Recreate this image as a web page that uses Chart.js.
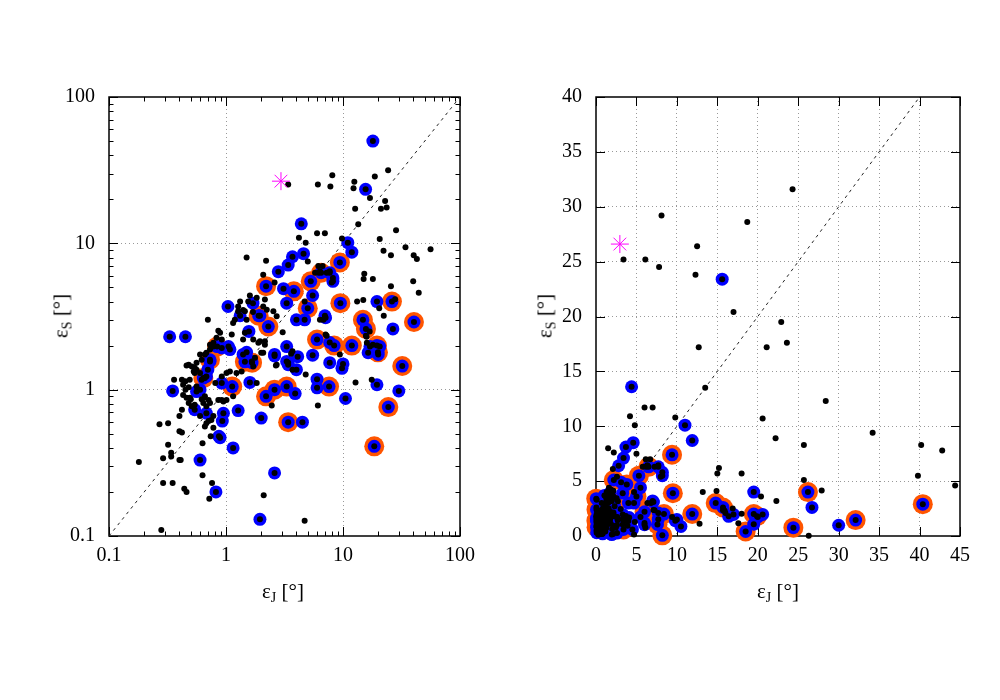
<!DOCTYPE html>
<html>
<head>
<meta charset="utf-8">
<script src="https://cdn.jsdelivr.net/npm/chart.js@4/dist/chart.umd.min.js"></script>
<style>
  body { margin: 0; background: #fff; }
  #wrap { position: relative; width: 1000px; height: 700px; }
  canvas { position: absolute; top: 0; }
  .t { position: absolute; font-family: "Liberation Serif", serif; font-size: 21px; white-space: nowrap; transform: translate(-50%, -50%); }
  .t sub { font-size: 14px; vertical-align: -4px; }
  .r { transform: translate(-50%, -50%) rotate(-90deg); }
</style>
</head>
<body>
<div id="wrap">
  <canvas id="logChart" width="500" height="700" style="left:0"></canvas>
  <canvas id="linChart" width="500" height="700" style="left:500px"></canvas>
  <div class="t" style="left:283px;top:592px">ε<sub>J</sub> [°]</div>
  <div class="t" style="left:778px;top:592px">ε<sub>J</sub> [°]</div>
  <div class="t r" style="left:62px;top:316px">ε<sub>S</sub> [°]</div>
  <div class="t r" style="left:546px;top:316px">ε<sub>S</sub> [°]</div>
</div>
<script>
// points [eps_J, eps_S] in degrees
// orange ring + blue + black
const ringPts = [
  [2.2,5.1],[3.8,4.7],[5.3,5.5],[6.5,6.3],[9.4,7.4],[5.0,3.6],[9.5,3.9],[14.8,3.0],[15.7,2.6],
  [26.2,4.0],[40.4,2.9],[6.0,2.2],[8.4,2.0],[11.9,2.0],[19.5,2.0],[19.9,1.8],[32.1,1.45],
  [24.4,0.76],[18.5,0.41],[3.4,0.6],[2.2,0.9],[2.6,1.0],[3.3,1.05],[7.6,1.05],[1.13,1.05],
  [1.67,1.53],[0.84,1.97],[0.73,1.6],[0.64,1.2],[1.9,3.2],[2.3,2.7],[1.45,1.55],[8.2,0.06],
  [0.06,2.4],[0.07,0.8],[0.03,3.4],[0.05,1.4]
];
// blue + black
const bluePts = [
  [18,50],[15.6,23.4],[4.4,13.6],[11,10.1],[11.9,8.7],[4.6,8.5],[3.7,8.1],[3.4,7.1],[2.8,6.4],
  [3.1,4.9],[5.5,4.4],[8.2,5.8],[7.7,6.3],[19.5,4.0],[1.04,3.7],[7.0,3.2],[0.33,2.3],[0.45,2.3],
  [0.35,0.98],[0.6,0.33],[0.82,0.2],[0.87,0.48],[1.15,0.4],[1.95,0.13],[2.6,0.27],[2.0,0.64],
  [4.5,0.6],[0.95,0.69],[0.93,0.61],[1.27,0.72],[1.6,1.12],[10.5,0.87],[19.5,1.08],[30,0.98],
  [6.0,1.03],[6.0,1.18],[3.9,0.94],[7.7,1.53],[9.8,1.4],[10,1.5],[5.5,1.72],[4.1,1.68],[3.4,1.53],
  [2.6,1.7],[3.3,1.97],[4.0,1.37],[1.57,2.5],[4.0,3.0],[7.1,3.1],[0.92,1.93],[1.05,1.97],[1.5,1.8],
  [1.66,1.56],[0.92,1.11],[0.7,1.37],[0.68,1.23],[0.56,0.97],[0.54,0.73],[0.68,0.69],[0.73,1.56],
  [1.32,3.2],[1.7,3.9],[1.95,3.2],[2.6,1.74],[3.3,3.9],[1.08,1.88],[8.2,5.5],[26.7,2.6],[7.7,2.1],
  [16.4,1.79],[20,1.74],[4.7,3.0],[0.6,1.0],[0.89,0.47],[3.3,1.56],[1.4,1.74],[3.4,1.48],
  [20.6,1.97],[17,1.97],[0.05,1.6],[0.08,0.3]
];
// black only
const dotPts = [
  [3.4,25.2],[6.1,25.2],[7.8,24.5],[8.1,29.2],[12.3,23.8],[12.5,26.4],[18.7,28.6],[24.3,31.6],
  [17,20.4],[22.9,19.5],[21.1,17.2],[23.6,17.6],[12.7,17.2],[13.5,13.5],[6.0,11.7],[7.0,11.7],
  [9.8,10.8],[4.2,10.9],[4.8,10.1],[1.5,8.0],[2.2,7.6],[5.0,7.5],[20.6,10.7],[22.2,8.9],[25.7,8.3],
  [34.2,9.4],[40.2,8.3],[42.8,7.8],[56,9.1],[39.8,5.5],[44.4,4.6],[25.7,5.1],[18,5.7],[15.2,6.2],
  [15.0,5.7],[22.3,3.2],[13.2,4.0],[14.9,4.1],[8.0,5.4],[6.2,6.3],[6.7,7.0],[28.4,12.3],[20.4,3.6],
  [27.9,4.15],[16.9,2.5],[12.8,1.12],[26.3,0.03],
  [0.18,0.32],[0.28,0.11],[0.29,0.23],[0.35,0.23],[0.44,0.21],[0.46,0.2],[0.32,0.42],[0.29,0.34],
  [0.34,0.37],[0.34,0.35],[0.27,0.58],[0.32,0.59],[0.40,0.52],[0.42,0.51],[0.40,0.33],[0.41,0.33],
  [0.40,0.66],[0.42,0.73],[0.63,0.43],[0.63,0.26],[0.76,0.23],[0.72,0.18],[0.74,0.48],[0.7,3.0],
  [0.46,1.46],[0.36,1.17],[0.42,1.17],[0.49,1.17],[0.48,1.04],[0.43,1.08],[0.45,1.0],[0.5,0.86],
  [0.62,0.86],[0.66,0.9],[0.68,0.77],[0.64,0.81],[0.6,0.66],[0.66,0.56],[0.68,0.59],[0.78,0.66],
  [0.86,2.53],[0.89,2.45],[1.12,2.38],[0.83,2.26],[0.73,2.03],[0.78,2.09],[0.6,1.74],[0.68,1.79],
  [0.56,1.53],[0.54,1.41],[0.54,1.3],[0.6,1.3],[1.15,0.9],[0.92,0.85],[0.95,0.83],[1.4,2.2],
  [1.45,2.45],[1.5,3.0],[1.7,3.4],[1.27,3.7],[1.4,3.5],[1.83,1.11],[2.08,1.79],[1.89,2.09],
  [2.67,1.46],[3.6,1.76],[3.7,1.83],[3.7,1.37],[4.8,1.27],[6.1,0.78],[2.46,0.78],[2.1,0.19],
  [4.7,0.127],[17.6,1.17],[7.25,2.34],[9.4,1.74],[16,2.09],[18,2.03],[15.7,2.34],
  [0.48,1.48],[0.51,1.44],[0.53,1.33],[0.56,1.37],[0.45,1.14],[0.43,0.92],[0.46,0.88],[0.49,0.88],
  [0.48,0.81],[0.51,0.77],[0.54,0.79],[0.65,0.88],[0.71,0.85],[0.73,0.81],[0.56,1.05],[0.62,1.17],
  [0.66,1.2],[0.62,1.6],[0.66,1.74],[0.73,1.88],[0.78,1.97],[0.75,0.62],[0.71,0.61],[0.78,0.55],
  [1.01,0.85],[0.86,0.85],[0.81,1.11],[0.92,1.23],[1.01,1.3],[1.08,1.33],[1.23,1.3],[1.36,1.33],
  [1.71,1.44],[1.77,1.65],[2.0,1.79],[2.15,2.03],
  [2.08,6.1],[2.6,5.4],[1.6,4.4],[1.55,4.0],[1.83,4.24],[1.32,4.0],[1.45,3.43],[1.27,3.43],
  [1.19,3.0],[1.15,2.86],[2.08,3.7],[2.23,3.52],[2.54,3.43],[2.15,4.13],[2.71,3.17],[2.15,2.14],
  [1.95,2.14],[1.71,2.2],[2.71,1.48],[0.92,2.2],
  [3.05,2.47],[4.7,4.0],[6.35,3.0],[6.8,3.0],[5.77,6.3],[6.15,7.0],[6.35,6.45],[7.25,6.3],
  [7.7,6.45],[15.9,2.3],[7.1,2.38],
  [0.05,2.6],[0.07,1.2],[0.06,0.5],[0.08,3.3],[0.04,0.9],[0.09,2.0],[0.02,1.8]
];
// magenta asterisk
const starPts = [[2.95,26.6]];

// axes
const logRange = [0.1, 100];
const logMajor = [0.1, 1, 10, 100];
const logMinor = [0.2,0.3,0.4,0.5,0.6,0.7,0.8,0.9,2,3,4,5,6,7,8,9,20,30,40,50,60,70,80,90];
const linXRange = [0, 45];
const linYRange = [0, 40];
const linXTicks = [0, 5, 10, 15, 20, 25, 30, 35, 40, 45];
const linYTicks = [0, 5, 10, 15, 20, 25, 30, 35, 40];

const FONT = { family: "Liberation Serif", size: 20 };

// inward ticks on all four sides + frame
const frame = {
  id: "frame",
  beforeDatasetsDraw(chart, args, o) {
    const { ctx, chartArea: a, scales: { x, y } } = chart;
    ctx.save();
    ctx.strokeStyle = "#000";
    ctx.lineWidth = 1;
    ctx.setLineDash([]);
    const xt = (vals, len) => vals.forEach(v => {
      const p = Math.round(x.getPixelForValue(v)) + 0.5;
      ctx.beginPath();
      ctx.moveTo(p, a.bottom); ctx.lineTo(p, a.bottom - len);
      ctx.moveTo(p, a.top); ctx.lineTo(p, a.top + len);
      ctx.stroke();
    });
    const yt = (vals, len) => vals.forEach(v => {
      const p = Math.round(y.getPixelForValue(v)) + 0.5;
      ctx.beginPath();
      ctx.moveTo(a.left, p); ctx.lineTo(a.left + len, p);
      ctx.moveTo(a.right, p); ctx.lineTo(a.right - len, p);
      ctx.stroke();
    });
    xt(o.xMajor, 9); yt(o.yMajor, 9);
    xt(o.xMinor || [], 4.5); yt(o.yMinor || [], 4.5);
    ctx.lineWidth = 1.5;
    ctx.strokeRect(a.left, a.top, a.right - a.left, a.bottom - a.top);
    ctx.restore();
  }
};

const pts = (arr, keep) => arr.filter(keep).map(([x, y]) => ({ x, y }));

function layers(keep, diag) {
  return [
    { data: pts(starPts, keep), pointStyle: "star", pointRadius: 9, borderColor: "#ff00ff", borderWidth: 1, clip: false },
    { data: pts([...ringPts, ...bluePts, ...dotPts], keep), pointRadius: 3, backgroundColor: "#000", borderWidth: 0, clip: false },
    { data: pts([...ringPts, ...bluePts], keep), pointRadius: 6.5, backgroundColor: "#0000ff", borderWidth: 0, clip: false },
    { data: pts(ringPts, keep), pointRadius: 10, backgroundColor: "#ff5500", borderWidth: 0, clip: false },
    { type: "line", data: diag.map(v => ({ x: v, y: v })), borderColor: "#222", borderWidth: 1,
      borderDash: [3, 4], pointRadius: 0, fill: false }
  ];
}

const gridColor = ends => ctx => ends.includes(ctx.tick.value) ? "rgba(0,0,0,0)" : "#999";

function axis(type, range, ticks, isY, width) {
  const s = {
    type: type,
    min: range[0],
    max: range[1],
    afterBuildTicks: sc => { sc.ticks = ticks.map(v => ({ value: v })); },
    grid: { color: gridColor(range), drawTicks: false, lineWidth: 1 },
    border: { display: false, dash: [1, 3] },
    ticks: { font: FONT, color: "#000", padding: isY ? 14 : 8, autoSkip: false, maxRotation: 0,
             callback: v => String(v) }
  };
  s.afterFit = isY ? (sc => { sc.width = width; }) : (sc => { sc.height = 90; });
  return s;
}

function makeChart(id, xType, yType, xRange, yRange, xTicks, yTicks, yWidth, keep, diag, minor) {
  new Chart(document.getElementById(id), {
    type: "scatter",
    data: { datasets: layers(keep, diag) },
    options: {
      responsive: false,
      animation: false,
      events: [],
      layout: { padding: { left: 0, right: 40, top: 97, bottom: 74 } },
      plugins: {
        legend: { display: false },
        tooltip: { enabled: false },
        frame: { xMajor: xTicks, yMajor: yTicks, xMinor: minor, yMinor: minor }
      },
      scales: {
        x: axis(xType, xRange, xTicks, false),
        y: axis(yType, yRange, yTicks, true, yWidth)
      }
    },
    plugins: [frame]
  });
}

// LOG-LOG PANEL
makeChart("logChart", "logarithmic", "logarithmic", logRange, logRange, logMajor, logMajor, 109,
  p => p[0] >= logRange[0] && p[0] <= logRange[1] && p[1] >= logRange[0] && p[1] <= logRange[1],
  logRange, logMinor);

// LINEAR PANEL
makeChart("linChart", "linear", "linear", linXRange, linYRange, linXTicks, linYTicks, 96,
  p => p[0] >= linXRange[0] && p[0] <= linXRange[1] && p[1] >= linYRange[0] && p[1] <= linYRange[1],
  [0, Math.min(linXRange[1], linYRange[1])], []);
</script>
</body>
</html>
